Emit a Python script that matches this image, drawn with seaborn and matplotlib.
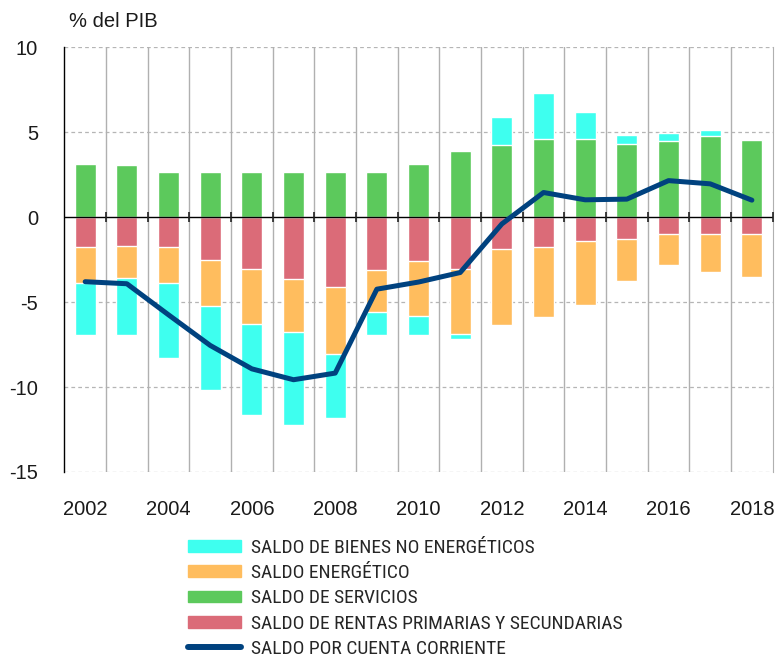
import numpy as np
import pandas as pd
import matplotlib
matplotlib.use("Agg")
import matplotlib.pyplot as plt
import seaborn as sns
from matplotlib.patches import Patch
from matplotlib.lines import Line2D

# datos (% del PIB)
years = [str(y) for y in range(2002, 2019)]
bienes = [-3.04, -3.39, -4.40, -4.94, -5.34, -5.48, -3.79, -1.37, -1.15, -0.33,
          1.65, 2.67, 1.62, 0.51, 0.45, 0.32, -0.08]
energetico = [-2.12, -1.88, -2.12, -2.71, -3.23, -3.11, -3.96, -2.45, -3.24, -3.79,
              -4.47, -4.10, -3.81, -2.49, -1.83, -2.22, -2.55]
servicios = [3.12, 3.04, 2.65, 2.63, 2.65, 2.63, 2.65, 2.68, 3.12, 3.90,
             4.27, 4.62, 4.57, 4.33, 4.51, 4.80, 4.55]
rentas = [-1.76, -1.69, -1.76, -2.53, -3.06, -3.65, -4.10, -3.14, -2.57, -3.06,
          -1.88, -1.75, -1.39, -1.26, -0.98, -0.98, -0.98]
cuenta = [-3.80, -3.92, -5.75, -7.55, -8.93, -9.57, -9.18, -4.24, -3.82, -3.26,
          -0.40, 1.45, 1.02, 1.06, 2.15, 1.96, 1.00]

labels = ["SALDO DE BIENES NO ENERGÉTICOS", "SALDO ENERGÉTICO", "SALDO DE SERVICIOS",
          "SALDO DE RENTAS PRIMARIAS Y SECUNDARIAS", "SALDO POR CUENTA CORRIENTE"]
c_bienes, c_energ, c_serv, c_rentas, c_cuenta = "#3effef", "#ffbd5e", "#5cc95c", "#db6b78", "#00427f"

sns.set_style("white")
plt.rcParams["font.family"] = ["Liberation Sans", "DejaVu Sans"]
plt.rcParams["axes.unicode_minus"] = False

df = pd.DataFrame({"year": years, "bienes": bienes, "energetico": energetico,
                   "servicios": servicios, "rentas": rentas, "cuenta": cuenta})
# acumulados para barras apiladas (positivos y negativos por separado)
neg2 = df["rentas"] + df["energetico"]
df["top_bienes"] = np.where(df["bienes"] < 0, neg2 + df["bienes"], df["servicios"] + df["bienes"])
df["top_energ"] = neg2

fig = plt.figure(figsize=(7.78, 6.58), dpi=100)
ax = fig.add_axes([0.0827, 0.2827, 0.9105, 0.6455])

w = 0.5
sns.barplot(data=df, x="year", y="top_bienes", color=c_bienes, width=w, saturation=1, ax=ax)
sns.barplot(data=df, x="year", y="top_energ", color=c_energ, width=w, saturation=1, ax=ax)
sns.barplot(data=df, x="year", y="rentas", color=c_rentas, width=w, saturation=1, ax=ax)
sns.barplot(data=df, x="year", y="servicios", color=c_serv, width=w, saturation=1, ax=ax)
sns.lineplot(x=np.arange(len(years)), y=df["cuenta"], color=c_cuenta, lw=3.6, ax=ax, zorder=4)

ax.set_xlim(-0.5, len(years) - 0.5)
ax.set_ylim(-15, 10)
ax.set_xlabel("")
ax.set_ylabel("")

# rejilla
for yv in [10, 5, -5, -10, -15]:
    ax.axhline(yv, color="#b5b5b5", lw=0.9, ls=(0, (3, 2.5)), zorder=0)
for xv in np.arange(0.5, len(years) - 0.5):
    ax.axvline(xv, color="#b0b0b0", lw=1.0, zorder=0)
ax.axhline(0, color="black", lw=1.0, zorder=3)
ax.plot(np.arange(0.5, len(years)), np.zeros(len(years)), ls="none", marker="|",
        ms=7, mew=1.2, color="#222222", zorder=3)

for s in ["top", "bottom"]:
    ax.spines[s].set_visible(False)
ax.spines["right"].set_color("#b0b0b0")
ax.spines["left"].set_color("black")
ax.spines["left"].set_linewidth(1.0)

ax.set_xticks(np.arange(0, len(years), 2))
ax.set_xticklabels(years[::2])
ax.set_yticks([10, 5, 0, -5, -10, -15])
ax.tick_params(axis="x", length=0, pad=20, labelsize=14.5, colors="#1a1a1a")
ax.tick_params(axis="y", length=0, pad=19, labelsize=14.5, colors="#1a1a1a")

fig.text(69 / 778, 1 - 21.5 / 658, "% del PIB", fontsize=14.5, ha="left", va="center", color="#1a1a1a")

handles = [Patch(color=c_bienes), Patch(color=c_energ), Patch(color=c_serv),
           Patch(color=c_rentas), Line2D([], [], color=c_cuenta, lw=4.3)]
fig.legend(handles, labels, loc="upper left", bbox_to_anchor=(188 / 778, 1 - 539 / 658),
           frameon=False, borderpad=0, borderaxespad=0, handlelength=2.7, handleheight=0.55,
           handletextpad=0.55, labelspacing=0.37,
           prop={"family": ["Roboto Condensed", "DejaVu Sans"], "size": 14})

fig.savefig("out.png", dpi=100)
